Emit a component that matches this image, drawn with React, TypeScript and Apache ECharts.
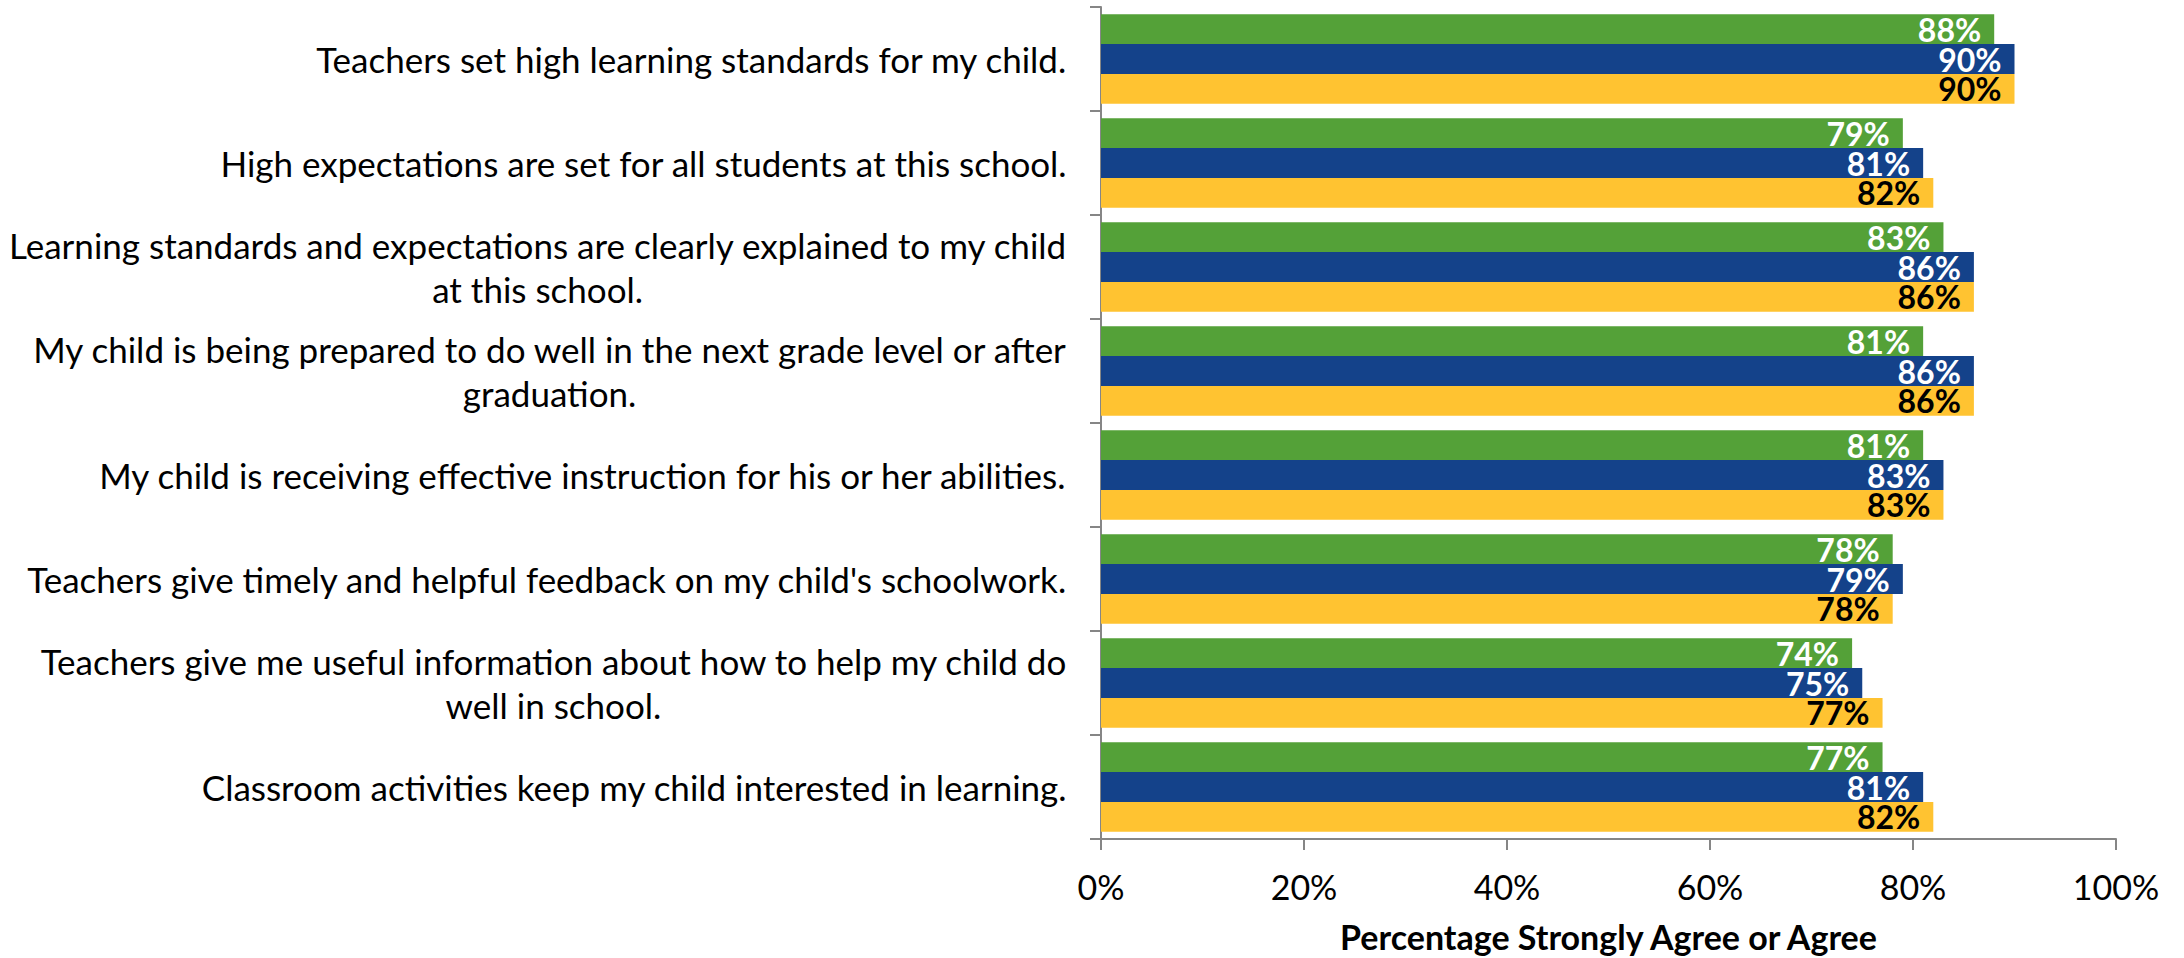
import React, { useEffect, useRef } from "react";
import * as echarts from "echarts";

const categories = [
  "Teachers set high learning standards for my child.",
  "High expectations are set for all students at this school.",
  "Learning standards and expectations are clearly explained to my child\nat this school.",
  "My child is being prepared to do well in the next grade level or after\ngraduation.",
  "My child is receiving effective instruction for his or her abilities.",
  "Teachers give timely and helpful feedback on my child's schoolwork.",
  "Teachers give me useful information about how to help my child do\nwell in school.",
  "Classroom activities keep my child interested in learning.",
];

const seriesNames = ["Series 1", "Series 2", "Series 3"];
const greenValues = [88, 79, 83, 81, 81, 78, 74, 77];
const blueValues = [90, 81, 86, 86, 83, 79, 75, 81];
const yellowValues = [90, 82, 86, 86, 83, 78, 77, 82];
const xTicks = [0, 20, 40, 60, 80, 100];
const axisTitle = "Percentage Strongly Agree or Agree";

const FONT = "Lato";

export default function App() {
  const ref = useRef<HTMLDivElement>(null);
  useEffect(() => {
    if (!ref.current) return;
    const chart = echarts.init(ref.current, null, { renderer: "svg" });
    const mkSeries = (name: string, data: number[], color: string, labelColor: string) => ({
      name,
      type: "bar",
      data,
      barGap: "0%",
      barCategoryGap: "14%",
      itemStyle: { color },
      label: {
        show: true,
        position: "insideRight",
        distance: 13,
        formatter: "{c}%",
        color: labelColor,
        fontWeight: "bold",
        fontSize: 32,
        lineHeight: 28,
        fontFamily: FONT,
      },
    });
    chart.setOption({
      animation: false,
      grid: { left: 1101, right: 68, top: 7, bottom: 118, containLabel: false },
      xAxis: {
        type: "value",
        min: xTicks[0],
        max: xTicks[xTicks.length - 1],
        interval: 20,
        axisLine: { show: true, lineStyle: { color: "#868686", width: 2 } },
        axisTick: { show: true, length: 11, lineStyle: { color: "#868686", width: 2 } },
        splitLine: { show: false },
        axisLabel: {
          formatter: "{value}%",
          color: "#000",
          fontSize: 34,
          fontFamily: FONT,
          margin: 30,
        },
        name: axisTitle,
        nameLocation: "middle",
        nameGap: 80,
        nameTextStyle: { color: "#000", fontSize: 34, fontWeight: "bold", fontFamily: FONT },
      },
      yAxis: {
        type: "category",
        data: categories,
        inverse: true,
        axisLine: { show: true, lineStyle: { color: "#868686", width: 2 } },
        axisTick: { show: true, length: 11, alignWithLabel: false, lineStyle: { color: "#868686", width: 2 } },
        splitLine: { show: false },
        axisLabel: {
          margin: 34,
          formatter: (v: string) => v.split("\n").map((l) => `{c|${l}}`).join("\n"),
          rich: {
            c: {
              align: "center",
              color: "#000",
              fontSize: 35,
              fontFamily: FONT,
              lineHeight: 44,
            },
          },
        },
      },
      series: [
        mkSeries(seriesNames[0], greenValues, "#54A138", "#ffffff"),
        mkSeries(seriesNames[1], blueValues, "#14428A", "#ffffff"),
        mkSeries(seriesNames[2], yellowValues, "#FFC331", "#000000"),
      ],
    });
    return () => chart.dispose();
  }, []);
  return (
    <div
      ref={ref}
      style={{ position: "fixed", left: 0, top: 0, width: 2184, height: 958, background: "#fff" }}
    />
  );
}
